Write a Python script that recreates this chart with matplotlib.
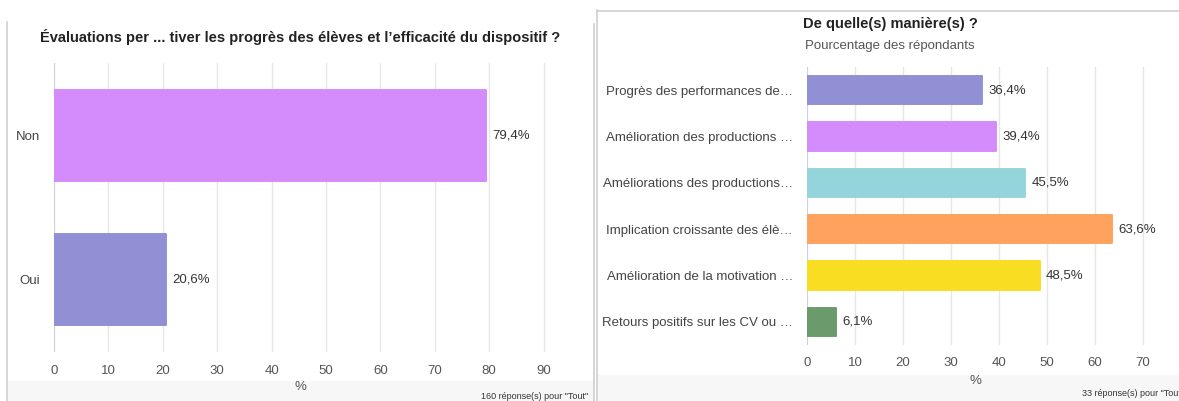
import matplotlib
matplotlib.use("Agg")
import matplotlib.pyplot as plt
from matplotlib.lines import Line2D
from matplotlib.patches import Rectangle

plt.rcParams['font.family'] = ['Liberation Sans', 'DejaVu Sans']

# ---- data ----
left_title = "Évaluations per ... tiver les progrès des élèves et l’efficacité du dispositif ?"
left_categories = ["Non", "Oui"]
left_values = [79.4, 20.6]
left_labels = ["79,4%", "20,6%"]
left_colors = ["#d48bfb", "#9190d4"]
left_ticks = [0, 10, 20, 30, 40, 50, 60, 70, 80, 90]
left_footer = "160 réponse(s) pour \"Tout\""

right_title = "De quelle(s) manière(s) ?"
right_subtitle = "Pourcentage des répondants"
right_categories = [
    "Progrès des performances de…",
    "Amélioration des productions …",
    "Améliorations des productions…",
    "Implication croissante des élè…",
    "Amélioration de la motivation …",
    "Retours positifs sur les CV ou …",
]
right_values = [36.4, 39.4, 45.5, 63.6, 48.5, 6.1]
right_labels = ["36,4%", "39,4%", "45,5%", "63,6%", "48,5%", "6,1%"]
right_colors = ["#9190d4", "#d48bfb", "#94d5dc", "#ffa25d", "#f9dd22", "#6b9b6d"]
right_ticks = [0, 10, 20, 30, 40, 50, 60, 70]
right_footer = "33 réponse(s) pour \"Tout"

W, H = 1179, 401
fig = plt.figure(figsize=(W / 100, H / 100), dpi=100)
fig.patch.set_facecolor("white")


def fx(px):
    return px / W


def fy(py):
    return 1 - py / H


TEXT = "#333333"
TICK = "#555555"
GRID = "#e6e6e6"
AXLINE = "#c9cbea"

# ---- background decorations ----
fig.add_artist(Rectangle((fx(8), fy(401)), fx(585), 20 / H,
                         transform=fig.transFigure, color="#f7f7f7", zorder=0))
fig.add_artist(Rectangle((fx(598), fy(401)), fx(581), 26 / H,
                         transform=fig.transFigure, color="#f7f7f7", zorder=0))
for line in [
    ((fx(7.5), fx(7.5)), (fy(22), fy(401))),
    ((fx(593.5), fx(593.5)), (fy(24), fy(401))),
    ((fx(597.5), fx(597.5)), (fy(10), fy(401))),
    ((fx(597.5), fx(1179)), (fy(10.5), fy(10.5))),
]:
    fig.add_artist(Line2D(line[0], line[1], transform=fig.transFigure,
                          color="#cfcfcf", lw=1.2, zorder=1))


def style_axes(ax, ticks, xmax):
    ax.set_xlim(0, xmax)
    ax.set_xticks(ticks)
    ax.set_xticklabels([str(t) for t in ticks])
    for s in ax.spines.values():
        s.set_visible(False)
    ax.tick_params(axis="both", length=0, colors=TICK, labelsize=9.5)
    ax.tick_params(axis="x", pad=9)
    ax.tick_params(axis="y", pad=10, labelcolor="#444444")
    ax.grid(axis="x", color=GRID, lw=1)
    ax.set_axisbelow(True)
    ax.axvline(0, color=AXLINE, lw=1.2, zorder=1)
    ax.patch.set_alpha(0)


def round_bars(bars, colors):
    for b, c in zip(bars, colors):
        b.set_edgecolor(c)
        b.set_linewidth(1.4)
        b.set_joinstyle("round")


# ---- left chart ----
axl = fig.add_axes([fx(54), fy(352), fx(585 - 54), 289 / H])
yl = list(range(len(left_categories)))
bl = axl.barh(yl, left_values, height=0.63, color=left_colors, zorder=2)
round_bars(bl, left_colors)
axl.set_ylim(len(left_categories) - 0.5, -0.5)
axl.set_yticks(yl)
axl.set_yticklabels(left_categories)
style_axes(axl, left_ticks, (585 - 54) / 5.44)
for y, v, lab in zip(yl, left_values, left_labels):
    axl.annotate(lab, (v, y), xytext=(4.5, 0), textcoords="offset points",
                 va="center", ha="left", fontsize=9.5, color=TEXT)

fig.text(fx(300), fy(37), left_title, ha="center", va="center",
         fontsize=10.5, fontweight="bold", color="#222222")
fig.text(fx(300), fy(387), "%", ha="center", va="center", fontsize=9.5, color=TICK)
fig.text(fx(481), fy(392), left_footer, ha="left", va="top", fontsize=6.5, color="#333333")

# ---- right chart ----
axr = fig.add_axes([fx(807), fy(345), fx(W - 807), 278 / H])
yr = list(range(len(right_categories)))
br = axr.barh(yr, right_values, height=0.61, color=right_colors, zorder=2)
round_bars(br, right_colors)
axr.set_ylim(len(right_categories) - 0.5, -0.5)
axr.set_yticks(yr)
axr.set_yticklabels(right_categories)
style_axes(axr, right_ticks, (W - 807) / 4.8)
for y, v, lab in zip(yr, right_values, right_labels):
    axr.annotate(lab, (v, y), xytext=(4.5, 0), textcoords="offset points",
                 va="center", ha="left", fontsize=9.5, color=TEXT)

fig.text(fx(890), fy(24), right_title, ha="center", va="center",
         fontsize=10.5, fontweight="bold", color="#222222")
fig.text(fx(890), fy(46), right_subtitle, ha="center", va="center",
         fontsize=9.5, color="#555555")
fig.text(fx(975), fy(381), "%", ha="center", va="center", fontsize=9.5, color=TICK)
fig.text(fx(1082), fy(394), right_footer, ha="left", va="center", fontsize=6.5, color="#333333")

fig.savefig("out.png", dpi=100)
